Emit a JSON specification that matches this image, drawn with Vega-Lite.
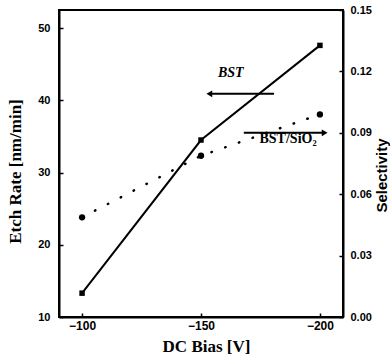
{
  "$schema": "https://vega.github.io/schema/vega-lite/v6.json",
  "width": 284,
  "height": 307,
  "autosize": {"type": "none"},
  "padding": {"left": 59, "top": 10, "right": 47, "bottom": 44},
  "background": "white",
  "datasets": {
    "bst": [
      {"bias": -100, "rate": 13.3},
      {"bias": -150, "rate": 34.5},
      {"bias": -200, "rate": 47.6}
    ],
    "sel": [
      {"bias": -100, "selectivity": 0.0487},
      {"bias": -150, "selectivity": 0.0788},
      {"bias": -200, "selectivity": 0.099}
    ],
    "arrows": [
      {"name": "BST", "tail": -180.7, "head": -153.5, "level": 40.9, "dir": "left"},
      {"name": "BST/SiO2", "tail": -168, "head": -202, "level": 35.5, "dir": "right"}
    ],
    "labels": [
      {"text": "BST", "bias": -162.5, "level": 43.8, "style": "italic"},
      {"text": "BST/SiO₂", "bias": -186.6, "level": 34.6, "style": "normal"}
    ]
  },
  "config": {
    "view": {"stroke": "black", "strokeWidth": 2},
    "axis": {
      "grid": false,
      "domainColor": "black",
      "domainWidth": 2,
      "tickColor": "black",
      "tickWidth": 1.5,
      "tickSize": -4,
      "labelFont": "Liberation Sans",
      "labelFontWeight": "bold",
      "labelColor": "black",
      "labelFontSize": 11,
      "titleFont": "Liberation Serif",
      "titleFontWeight": "bold",
      "titleColor": "black",
      "titleFontSize": 17
    }
  },
  "layer": [
    {
      "encoding": {
        "x": {
          "field": "bias",
          "type": "quantitative",
          "scale": {"domain": [-90.3, -209.7], "nice": false, "zero": false},
          "axis": {
            "title": "DC Bias [V]",
            "values": [-100, -150, -200],
            "labelFontSize": 12,
            "labelPadding": 7,
            "titleX": 147,
            "titleY": 34,
            "titleBaseline": "alphabetic",
            "titleAnchor": null
          }
        },
        "y": {
          "field": "rate",
          "type": "quantitative",
          "scale": {"domain": [10, 52.5], "nice": false, "zero": false},
          "axis": {
            "title": "Etch Rate [nm/min]",
            "values": [10, 20, 30, 40, 50],
            "labelPadding": 13,
            "titleAngle": 270,
            "titleBaseline": "middle",
            "titleAlign": "center",
            "titleX": -44,
            "titleY": 161
          }
        }
      },
      "layer": [
        {
          "data": {"name": "bst"},
          "mark": {"type": "line", "color": "black", "strokeWidth": 2}
        },
        {
          "data": {"name": "bst"},
          "mark": {"type": "point", "shape": "square", "filled": true, "color": "black", "size": 30, "opacity": 1}
        },
        {
          "data": {"name": "arrows"},
          "mark": {"type": "rule", "color": "black", "strokeWidth": 2},
          "encoding": {
            "x": {"field": "tail", "type": "quantitative"},
            "x2": {"field": "head"},
            "y": {"field": "level", "type": "quantitative"}
          }
        },
        {
          "data": {"name": "arrows"},
          "mark": {"type": "point", "filled": true, "color": "black", "size": 45, "opacity": 1},
          "encoding": {
            "x": {"field": "head", "type": "quantitative"},
            "y": {"field": "level", "type": "quantitative"},
            "shape": {
              "field": "dir",
              "type": "nominal",
              "scale": {"domain": ["left", "right"], "range": ["triangle-left", "triangle-right"]},
              "legend": null
            }
          }
        },
        {
          "data": {"name": "labels"},
          "transform": [{"filter": "datum.style == 'italic'"}],
          "mark": {"type": "text", "font": "Liberation Serif", "fontWeight": "bold", "fontStyle": "italic", "fontSize": 14, "color": "black", "align": "center", "baseline": "middle"},
          "encoding": {
            "x": {"field": "bias", "type": "quantitative"},
            "y": {"field": "level", "type": "quantitative"},
            "text": {"field": "text"}
          }
        },
        {
          "data": {"name": "labels"},
          "transform": [{"filter": "datum.style == 'normal'"}],
          "mark": {"type": "text", "font": "Liberation Serif", "fontWeight": "bold", "fontSize": 14, "color": "black", "align": "center", "baseline": "middle"},
          "encoding": {
            "x": {"field": "bias", "type": "quantitative"},
            "y": {"field": "level", "type": "quantitative"},
            "text": {"field": "text"}
          }
        }
      ]
    },
    {
      "data": {"name": "sel"},
      "encoding": {
        "x": {"field": "bias", "type": "quantitative"},
        "y": {
          "field": "selectivity",
          "type": "quantitative",
          "scale": {"domain": [0, 0.15], "nice": false},
          "axis": {
            "orient": "right",
            "title": "Selectivity",
            "values": [0, 0.03, 0.06, 0.09, 0.12, 0.15],
            "format": ".2f",
            "labelPadding": 11,
            "titleFont": "Liberation Sans",
            "titleFontSize": 15,
            "titleAngle": 270,
            "titleBaseline": "middle",
            "titleAlign": "center",
            "titleX": 38,
            "titleY": 165
          }
        }
      },
      "layer": [
        {
          "mark": {"type": "line", "color": "black", "strokeWidth": 2.5, "strokeDash": [0.5, 14], "strokeCap": "round"}
        },
        {
          "mark": {"type": "point", "shape": "circle", "filled": true, "color": "black", "size": 40, "opacity": 1}
        }
      ]
    }
  ],
  "resolve": {"scale": {"y": "independent"}}
}
